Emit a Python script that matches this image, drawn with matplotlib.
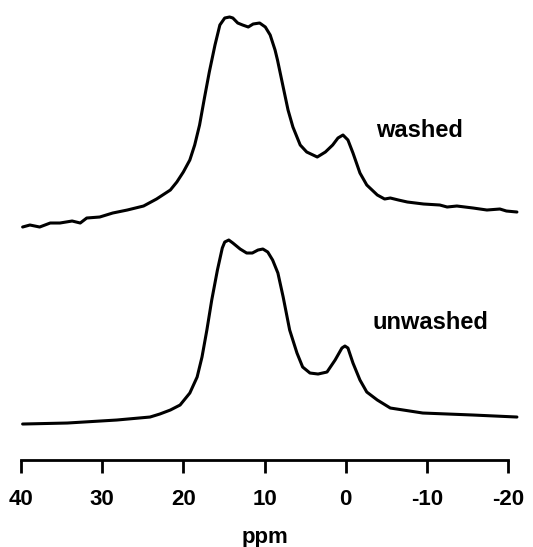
import numpy as np
from matplotlib import pyplot as plt

# chemical shift (ppm) and intensity
washed_ppm = [39.8, 38.9, 38.3, 37.7, 36.4, 35.2, 33.7, 32.7, 31.9, 30.3, 28.7, 26.9,
              24.9, 23.3, 21.6, 20.8, 20.0, 19.2, 18.6, 18.0, 17.4, 16.8, 16.1, 15.5,
              14.9, 14.3, 13.9, 13.3, 12.7, 12.0, 11.4, 10.6, 9.9, 9.3, 8.7, 8.4,
              7.7, 7.1, 6.5, 5.6, 4.8, 3.5, 2.5, 1.6, 0.95, 0.33, -0.28, -0.9,
              -1.76, -2.6, -3.9, -4.8, -5.5, -6.5, -7.6, -9.6, -11.6, -12.5, -13.7,
              -15.7, -17.4, -19.0, -19.8, -21.1]
washed_int = [3, 5, 4, 3, 7, 7, 9, 7, 12, 13, 17, 20,
              24, 31, 40, 48, 58, 70, 85, 105, 132, 158, 185, 205,
              212, 213, 212, 207, 205, 203, 206, 207, 203, 195, 180, 170,
              143, 120, 103, 85, 78, 73, 78, 85, 92, 95, 90, 77,
              57, 45, 35, 31, 32, 30, 28, 26, 25, 23, 24,
              22, 20, 21, 19, 18]

unwashed_ppm = [39.8, 34.3, 28.2, 24.1, 22.9, 21.6, 20.4, 19.2, 18.3, 17.7, 17.1, 16.5,
                15.8, 15.2, 14.9, 14.4, 13.9, 13.0, 12.2, 11.5, 10.8, 10.2, 9.6, 9.0,
                8.35, 7.7, 6.9, 6.0, 5.3, 4.4, 3.4, 2.3, 1.3, 0.46, 0.09, -0.28, -0.9,
                -1.76, -2.6, -3.9, -5.5, -9.5, -15.7, -21.1]
unwashed_int = [6, 7, 10, 13, 16, 20, 25, 37, 53, 73, 100, 130,
                160, 182, 188, 190, 187, 181, 177, 177, 180, 181, 178, 170,
                157, 133, 100, 77, 63, 57, 56, 58, 70, 82, 84, 82, 67,
                50, 38, 30, 22, 17, 15, 13]

washed_offset = 230
unwashed_offset = 30
ticks = [40, 30, 20, 10, 0, -10, -20]

fig = plt.figure(figsize=(5.33, 5.47), dpi=100)
ax = fig.add_axes([0.0394, 0.159, 0.9137, 0.841])

for ppm, inten, off in [(washed_ppm, washed_int, washed_offset),
                        (unwashed_ppm, unwashed_int, unwashed_offset)]:
    ax.plot(ppm, np.array(inten) + off, color='black', lw=2.2,
            solid_joinstyle='round', solid_capstyle='round', clip_on=False)

font = ['Liberation Sans', 'DejaVu Sans']
ax.text(-9.15, 330, 'washed', ha='center', va='center', fontsize=17,
        fontweight='bold', family=font)
ax.text(-10.4, 138, 'unwashed', ha='center', va='center', fontsize=17,
        fontweight='bold', family=font)

ax.set_xlim(40, -20)
ax.set_ylim(0, 460)
for s in ['top', 'left', 'right']:
    ax.spines[s].set_visible(False)
ax.spines['bottom'].set_linewidth(2.0)
ax.spines['bottom'].set_capstyle('projecting')
ax.set_yticks([])
ax.set_xticks(ticks)
ax.set_xticklabels([str(t) for t in ticks], fontsize=16, fontweight='bold', family=font)
ax.tick_params(axis='x', length=9, width=2.0, pad=12)
ax.set_xlabel('ppm', fontsize=16, fontweight='bold', family=font, labelpad=12)

fig.savefig('out.png', dpi=100)
